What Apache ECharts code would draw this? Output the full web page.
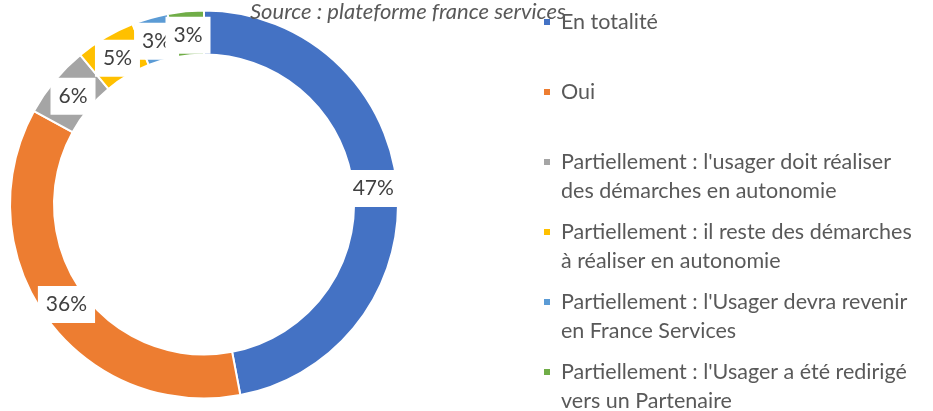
<!DOCTYPE html>
<html>
<head>
<meta charset="utf-8">
<script src="https://cdn.jsdelivr.net/npm/echarts@6/dist/echarts.min.js"></script>
<style>
  html, body { margin: 0; padding: 0; background: #fff; }
  #chart { width: 933px; height: 411px; }
</style>
</head>
<body>
<div id="chart"></div>
<script>
// catégories et valeurs (%)
const categories = [
  'En totalité',
  'Oui',
  "Partiellement : l'usager doit réaliser des démarches en autonomie",
  'Partiellement : il reste des démarches à réaliser en autonomie',
  "Partiellement : l'Usager devra revenir en France Services",
  "Partiellement : l'Usager a été redirigé vers un Partenaire"
]
// libellés de légende, coupés sur deux lignes comme dans la figure
const legendLines = [
  ['En totalité', ' '],
  ['Oui', ' '],
  ["Partiellement : l'usager doit réaliser", 'des démarches en autonomie'],
  ['Partiellement : il reste des démarches', 'à réaliser en autonomie'],
  ["Partiellement : l'Usager devra revenir", 'en France Services'],
  ["Partiellement : l'Usager a été redirigé", 'vers un Partenaire']
]
const values = [47, 36, 6, 5, 3, 3]
const colors = ['#4472C4', '#ED7D31', '#A5A5A5', '#FFC000', '#5B9BD5', '#70AD47']
const sourceText = 'Source : plateforme france services'

const pieCenter = [204, 204.5]

const chart = echarts.init(document.getElementById('chart'))

const option = {
  animation: false,
  color: colors,
  title: {
    text: sourceText,
    left: 250,
    top: 1,
    padding: 0,
    textStyle: { fontFamily: 'Lato', fontStyle: 'italic', fontWeight: 'normal', fontSize: 22, color: '#595959' }
  },
  legend: {
    orient: 'vertical',
    left: 542,
    top: -21.5,
    height: 800,
    padding: 0,
    itemWidth: 8,
    itemHeight: 8,
    itemGap: -17,
    icon: 'rect',
    data: categories,
    // ligne vide en tête : la 1re ligne du texte tombe au niveau du carré
    formatter: function (name) {
      return ' \n' + legendLines[categories.indexOf(name)].join('\n')
    },
    textStyle: {
      fontFamily: 'Lato',
      fontSize: 21.5,
      lineHeight: 29,
      color: '#595959',
      padding: [0, 0, 0, 5]
    }
  },
  series: [{
    type: 'pie',
    center: pieCenter,
    radius: [150, 194],
    startAngle: 90,
    clockwise: true,
    avoidLabelOverlap: false,
    minShowLabelAngle: 0,
    itemStyle: { borderColor: '#fff', borderWidth: 2 },
    label: {
      show: true,
      position: 'inside',
      formatter: '{c}%',
      fontFamily: 'Lato',
      fontSize: 21,
      color: '#404040',
      backgroundColor: '#fff',
      padding: [8, 8, 8, 8]
    },
    // étiquettes un peu rapprochées du centre, comme dans Excel
    labelLayout: function (params) {
      const r = params.labelRect
      const cx = r.x + r.width / 2 - pieCenter[0]
      const cy = r.y + r.height / 2 - pieCenter[1]
      const d = Math.sqrt(cx * cx + cy * cy) || 1
      return { dx: -5 * cx / d, dy: -5 * cy / d, hideOverlap: false }
    },
    labelLine: { show: false },
    emphasis: { disabled: true },
    data: categories.map(function (c, i) { return { name: c, value: values[i] } })
  }]
}

chart.setOption(option)
</script>
</body>
</html>
